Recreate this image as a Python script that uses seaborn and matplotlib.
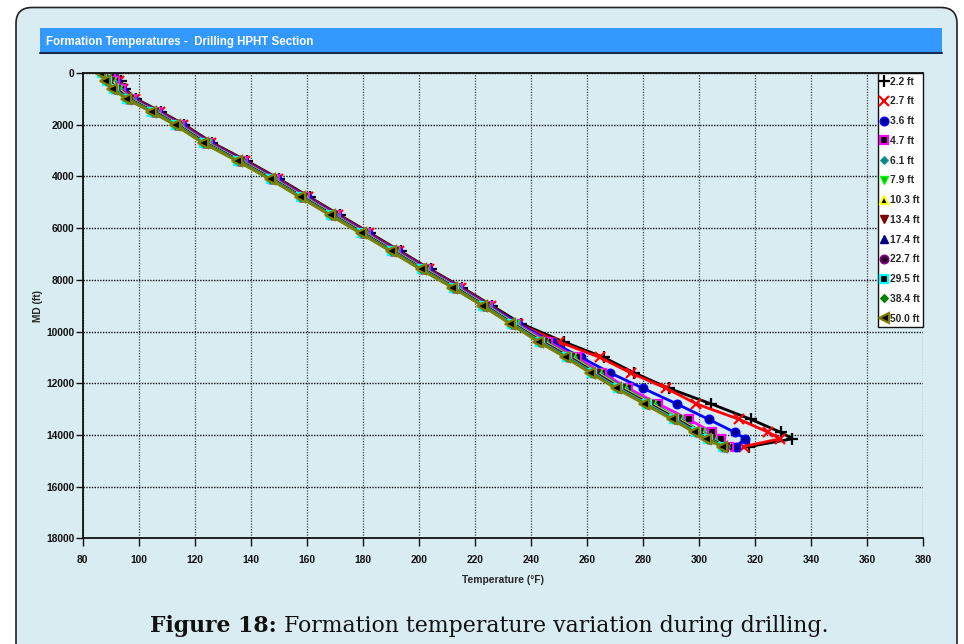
import matplotlib
matplotlib.use("Agg")
import matplotlib.pyplot as plt
import seaborn as sns
from matplotlib.patches import FancyBboxPatch, Rectangle
from matplotlib.lines import Line2D
from matplotlib.transforms import IdentityTransform

# ---------------- data ----------------
depth_ft = [0, 300, 600, 1000, 1500, 2000, 2700, 3400, 4100, 4800, 5500, 6200, 6900,
            7600, 8300, 9000, 9700, 10400, 11000, 11600, 12200, 12800, 13400, 13900, 14150, 14450]

temp_2_2 = [92.0, 93.5, 95.0, 99.0, 108.0, 116.3, 126.3, 138.6, 150.2, 161.0, 171.8, 182.7, 193.5,
            204.2, 215.5, 226.1, 236.6, 251.7, 266.0, 276.9, 289.3, 304.4, 318.6, 329.2, 333.4, 318.0]
temp_2_7 = [91.5, 93.0, 94.5, 98.5, 107.5, 115.8, 125.8, 138.1, 149.7, 160.5, 171.3, 182.2, 193.0,
            203.7, 215.0, 225.6, 235.5, 250.0, 264.6, 275.6, 288.4, 299.1, 314.4, 324.8, 329.0, 316.0]
temp_3_6 = [90.5, 92.0, 94.0, 98.0, 107.0, 115.3, 125.3, 137.6, 149.2, 160.0, 170.8, 181.7, 192.5,
            203.2, 214.5, 225.1, 235.5, 247.5, 257.9, 268.3, 280.1, 292.1, 303.5, 312.8, 316.5, 313.3]
temp_4_7 = [90.0, 91.5, 93.5, 97.5, 106.5, 114.8, 124.8, 137.1, 148.7, 159.5, 170.3, 181.2, 192.0,
            202.7, 214.0, 224.6, 234.8, 246.2, 256.3, 265.5, 274.8, 285.5, 296.4, 304.7, 308.0, 310.8]
temp_6_1 = [89.0, 90.8, 93.0, 97.1, 106.1, 114.4, 124.4, 136.7, 148.3, 159.1, 169.9, 180.8, 191.6,
            202.3, 213.6, 224.2, 234.4, 245.1, 255.0, 264.2, 273.3, 283.5, 293.4, 301.2, 305.2, 309.7]
temp_7_9 = [88.5, 90.3, 92.5, 96.9, 105.9, 114.2, 124.2, 136.5, 148.1, 158.9, 169.7, 180.6, 191.4,
            202.1, 213.4, 224.0, 234.2, 244.8, 254.6, 263.8, 272.9, 283.1, 293.0, 300.8, 304.8, 309.5]
temp_10_3 = [88.2, 90.0, 92.3, 96.7, 105.7, 114.0, 124.0, 136.3, 147.9, 158.7, 169.5, 180.4, 191.2,
             201.9, 213.2, 223.8, 233.9, 244.5, 254.3, 263.4, 272.5, 282.7, 292.6, 300.4, 304.5, 309.3]
temp_13_4 = [88.0, 89.8, 92.0, 96.5, 105.5, 113.8, 123.8, 136.1, 147.7, 158.5, 169.3, 180.2, 191.0,
             201.7, 213.0, 223.6, 233.7, 244.2, 254.0, 263.1, 272.2, 282.4, 292.3, 300.1, 304.2, 309.2]
temp_17_4 = [87.6, 89.5, 91.7, 96.3, 105.3, 113.6, 123.6, 135.9, 147.5, 158.3, 169.1, 180.0, 190.8,
             201.5, 212.8, 223.4, 233.5, 243.9, 253.7, 262.7, 271.8, 282.0, 291.9, 299.7, 303.9, 309.0]
temp_22_7 = [87.2, 89.1, 91.5, 96.1, 105.1, 113.4, 123.4, 135.7, 147.3, 158.1, 168.9, 179.8, 190.6,
             201.3, 212.6, 223.2, 233.3, 243.7, 253.4, 262.4, 271.5, 281.7, 291.6, 299.4, 303.6, 308.8]
temp_29_5 = [86.8, 88.8, 91.1, 95.9, 104.9, 113.2, 123.2, 135.5, 147.1, 157.9, 168.7, 179.6, 190.4,
             201.1, 212.4, 223.0, 233.1, 243.3, 253.0, 262.0, 271.1, 281.3, 291.2, 299.0, 303.2, 308.6]
temp_38_4 = [86.4, 88.4, 90.8, 95.7, 104.7, 113.0, 123.0, 135.3, 146.9, 157.7, 168.5, 179.4, 190.2,
             200.9, 212.2, 222.8, 232.8, 243.0, 252.7, 261.6, 270.7, 280.9, 290.8, 298.6, 302.9, 308.4]
temp_50_0 = [86.0, 88.0, 90.5, 95.5, 104.5, 112.8, 122.8, 135.1, 146.7, 157.5, 168.3, 179.2, 190.0,
             200.7, 212.0, 222.6, 232.6, 242.7, 252.3, 261.2, 270.3, 280.5, 290.4, 298.2, 302.5, 308.2]

series_labels = ["2.2 ft", "2.7 ft", "3.6 ft", "4.7 ft", "6.1 ft", "7.9 ft", "10.3 ft",
                 "13.4 ft", "17.4 ft", "22.7 ft", "29.5 ft", "38.4 ft", "50.0 ft"]
series_temps = [temp_2_2, temp_2_7, temp_3_6, temp_4_7, temp_6_1, temp_7_9, temp_10_3,
                temp_13_4, temp_17_4, temp_22_7, temp_29_5, temp_38_4, temp_50_0]

x_ticks = [80, 100, 120, 140, 160, 180, 200, 220, 240, 260, 280, 300, 320, 340, 360, 380]
y_ticks = [0, 2000, 4000, 6000, 8000, 10000, 12000, 14000, 16000, 18000]

# ---------------- styles ----------------
styles = [
    dict(color="#000000", marker="+", ms=8, mfc="#000000", mec="#000000", mew=1.6),
    dict(color="#FF0000", marker="x", ms=6.5, mfc="#FF0000", mec="#FF0000", mew=1.6),
    dict(color="#0000FF", marker="o", ms=6, mfc="#000090", mec="#0000FF", mew=1.2),
    dict(color="#FF00FF", marker="s", ms=6, mfc="#000000", mec="#FF00FF", mew=1.6),
    dict(color="#008080", marker="D", ms=4, mfc="#008080", mec="#20A0A0", mew=0.8),
    dict(color="#00FF00", marker="v", ms=6, mfc="#00C000", mec="#00FF00", mew=1.0),
    dict(color="#FFFF00", marker="^", ms=6, mfc="#000000", mec="#FFFF00", mew=1.4),
    dict(color="#800000", marker="v", ms=6, mfc="#800000", mec="#800000", mew=1.0),
    dict(color="#000080", marker="^", ms=6, mfc="#000080", mec="#000080", mew=1.0),
    dict(color="#800080", marker="o", ms=6, mfc="#300030", mec="#800080", mew=1.2),
    dict(color="#00FFFF", marker="s", ms=6, mfc="#000000", mec="#00FFFF", mew=1.6),
    dict(color="#008000", marker="D", ms=4, mfc="#008000", mec="#008000", mew=0.8),
    dict(color="#808000", marker="<", ms=7, mfc="#000000", mec="#808000", mew=1.6),
]

BG = "#D8ECF2"
W, H = 964, 644
FS = 7.4

sns.set_theme(style="white")
plt.rcParams["font.family"] = ["Liberation Sans", "DejaVu Sans"]

fig = plt.figure(figsize=(W / 100, H / 100), dpi=100, facecolor="white")

# rounded panel (behind axes)
panel = FancyBboxPatch((16, -40), 941, H - 7.5 + 40, boxstyle="round,pad=0,rounding_size=16",
                       transform=IdentityTransform(), facecolor=BG, edgecolor="#222222", lw=1.2,
                       zorder=-10)
fig.add_artist(panel)

# title bar
bar = Rectangle((40, H - 52.5), 902, 24.5, transform=IdentityTransform(),
                facecolor="#3399FF", edgecolor="none", zorder=-5)
fig.add_artist(bar)
fig.add_artist(Line2D([40, 942], [H - 52.5, H - 52.5], transform=IdentityTransform(),
                      color="#1A2A50", lw=1.5, zorder=-4))
fig.text(46 / W, 1 - 42 / H, "Formation Temperatures -  Drilling HPHT Section", color="white",
         fontsize=8.3, fontweight="bold", va="center", ha="left")

# axes
left, right, top, bottom = 82.7, 923, 73, 538.3
ax = fig.add_axes([left / W, 1 - bottom / H, (right - left) / W, (bottom - top) / H])
ax.set_facecolor(BG)

for temps, st in zip(series_temps, styles):
    sns.lineplot(x=temps, y=depth_ft, sort=False, estimator=None, ax=ax,
                 color=st["color"], lw=2.0, marker=st["marker"], ms=st["ms"],
                 mfc=st["mfc"], mec=st["mec"], mew=st["mew"])

ax.set_xlim(80, 380)
ax.set_ylim(18000, 0)
ax.set_xticks(x_ticks)
ax.set_yticks(y_ticks)
ax.set_xticklabels([str(v) for v in x_ticks], fontsize=FS, fontweight="bold")
ax.set_yticklabels([str(v) for v in y_ticks], fontsize=FS, fontweight="bold")
ax.tick_params(axis="x", direction="out", length=6, width=1, pad=6, bottom=True, colors="#111111")
ax.tick_params(axis="y", direction="out", length=5, width=1, pad=1, left=True, colors="#111111")

ax.xaxis.grid(True, color="#444444", lw=0.9, ls=(0, (1, 1.2)))
ax.yaxis.grid(True, color="#111111", lw=1.0, ls=(0, (1, 1)))
ax.set_axisbelow(True)

for side in ["left", "bottom", "top"]:
    ax.spines[side].set_visible(True)
    ax.spines[side].set_color("#111111")
    ax.spines[side].set_linewidth(1.3)
ax.spines["right"].set_visible(False)

ax.set_xlabel("Temperature (°F)", fontsize=FS, fontweight="bold", labelpad=7)
ax.set_ylabel("MD (ft)", fontsize=FS, fontweight="bold", labelpad=2)

handles = [Line2D([], [], ls="", marker=st["marker"], ms=st["ms"], mfc=st["mfc"],
                  mec=st["mec"], mew=st["mew"], color=st["color"]) for st in styles]
leg = ax.legend(handles, series_labels, loc="upper right", bbox_to_anchor=(1, 1),
                borderaxespad=0, frameon=True, fancybox=False, edgecolor="#111111",
                facecolor="white", framealpha=1, handlelength=0.55, handletextpad=0.25,
                labelspacing=0.95, borderpad=0.35, prop=dict(size=FS, weight="bold"))
leg.get_frame().set_linewidth(1.0)

# caption
fig.canvas.draw()
renderer = fig.canvas.get_renderer()
cap_y = 1 - 632 / H
cap1 = fig.text(150 / W, cap_y, "Figure 18:", fontsize=15.8, fontweight="bold",
                family="DejaVu Serif", va="baseline", ha="left", color="#111111")
bb = cap1.get_window_extent(renderer)
fig.text(bb.x1 / W, cap_y, " Formation temperature variation during drilling.", fontsize=15.8,
         family="DejaVu Serif", va="baseline", ha="left", color="#111111")

fig.savefig("out.png", dpi=100, facecolor="white")
